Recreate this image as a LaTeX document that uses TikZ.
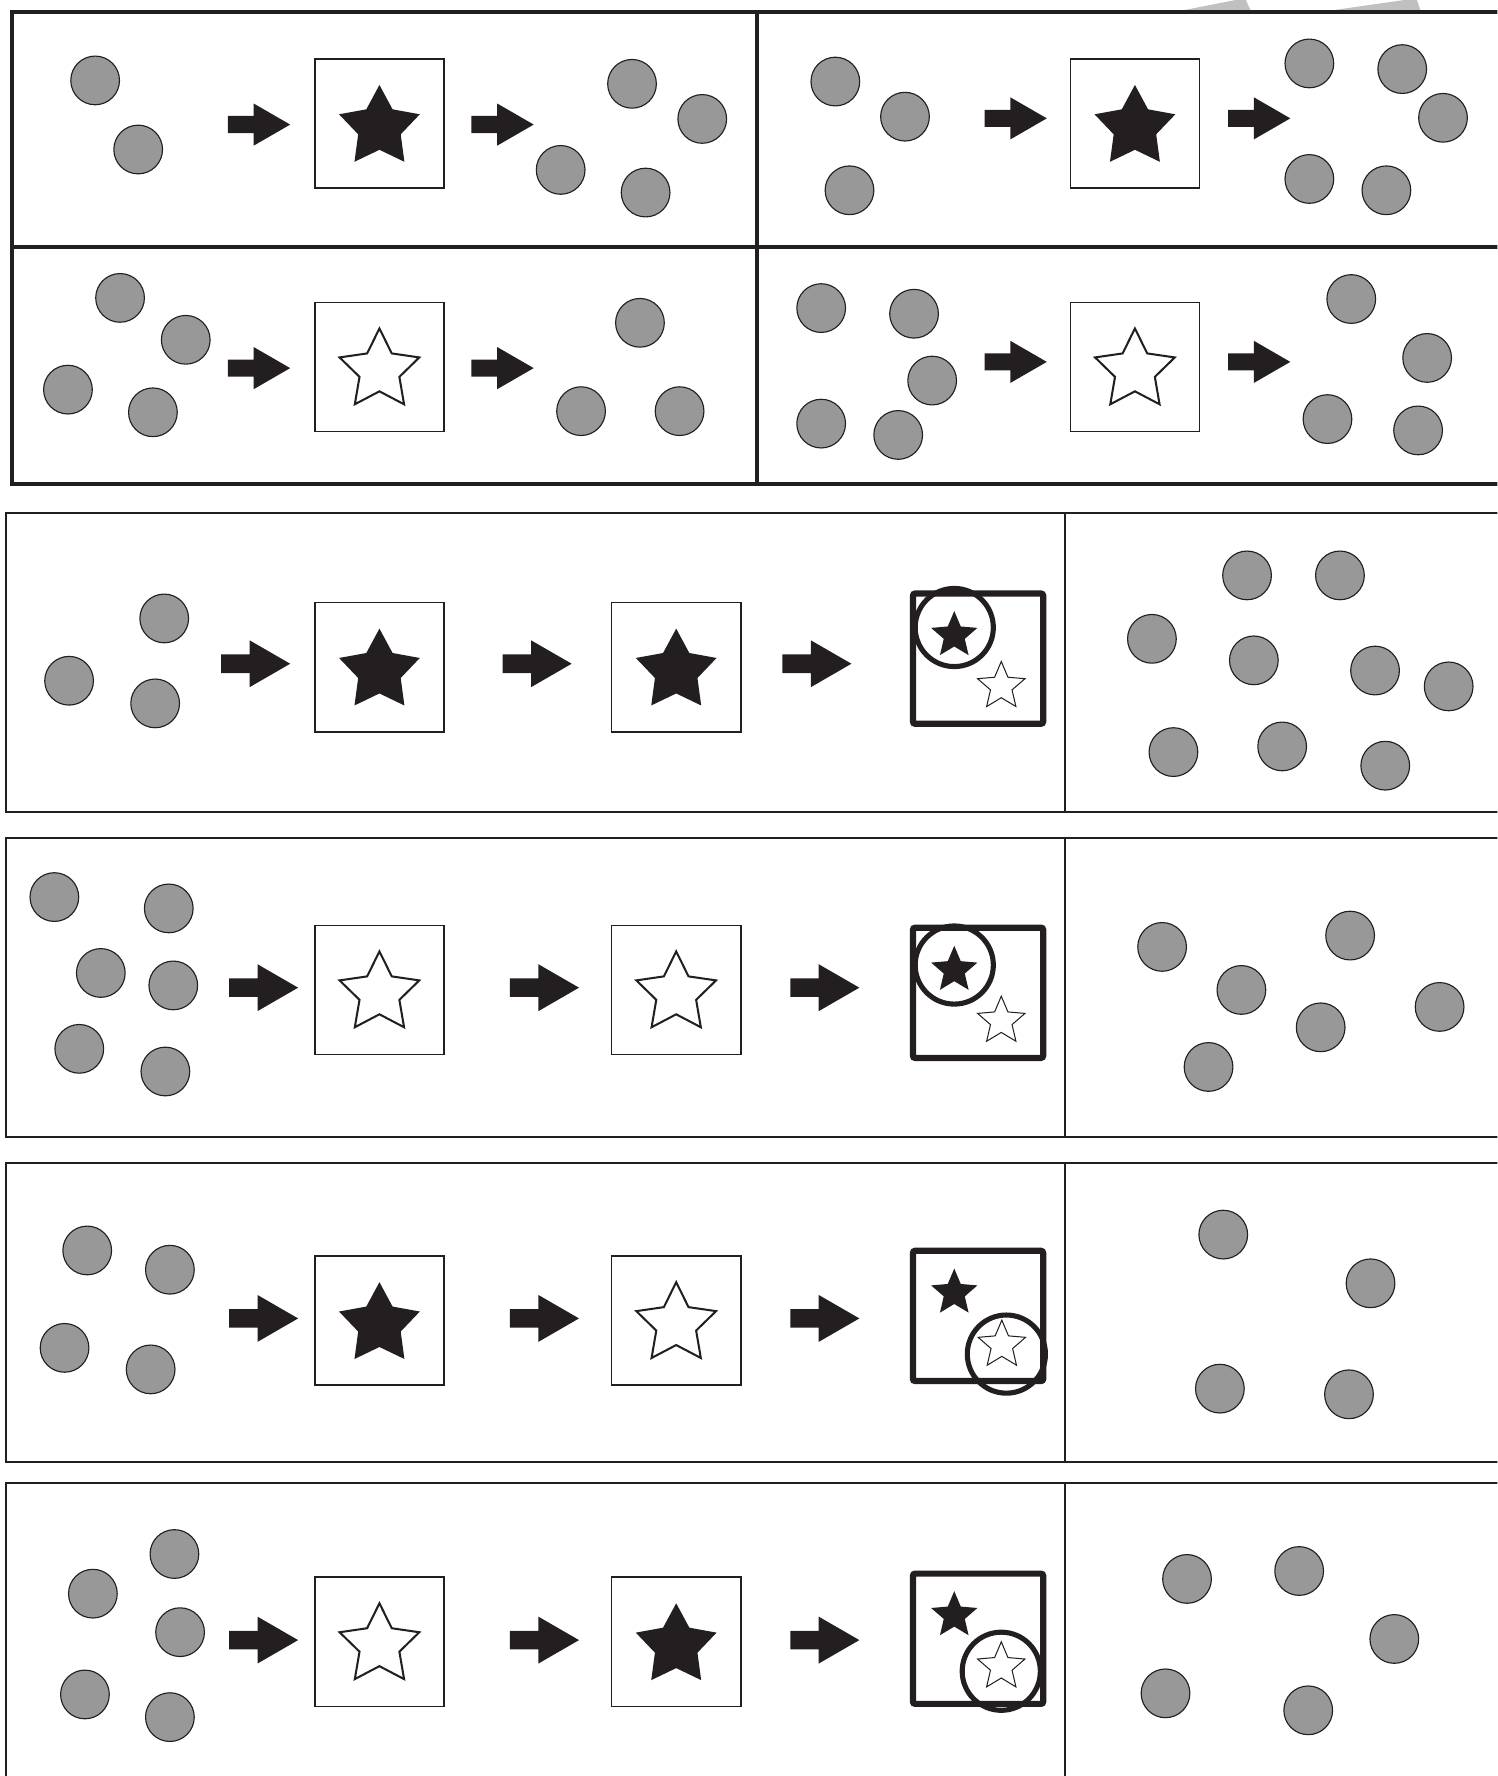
\documentclass[tikz,border=0pt]{standalone}
\usepackage{tikz}
\usetikzlibrary{shapes.geometric, shapes.arrows, positioning}
\definecolor{inkblack}{HTML}{231F20}
\definecolor{ballgray}{HTML}{989898}
\definecolor{ghostgray}{HTML}{C0C0C0}
\tikzset{
  gridframe/.style={draw=inkblack, line width=3.5pt},
  rowframe/.style={draw=inkblack, line width=1.8pt},
  ball/.style={circle, draw=inkblack, fill=ballgray, line width=1pt, minimum size=43pt, inner sep=0pt},
  cardbox/.style={rectangle, draw=inkblack, line width=1.5pt, minimum size=114pt, inner sep=0pt},
  pickbox/.style={rectangle, draw=inkblack, line width=5.5pt, rounded corners=2pt, minimum size=115pt, inner sep=0pt},
  fullstar/.style={star, star points=5, star point ratio=1.9, fill=inkblack, minimum size=75pt, inner sep=0pt},
  openstar/.style={star, star points=5, star point ratio=2.0, draw=inkblack, fill=white, line width=1.8pt, minimum size=74pt, inner sep=0pt},
  minifull/.style={star, star points=5, star point ratio=2.2, fill=inkblack, minimum size=43pt, inner sep=0pt},
  miniopen/.style={star, star points=5, star point ratio=2.2, draw=inkblack, fill=white, line width=0.9pt, minimum size=44pt, inner sep=0pt},
  ring/.style={circle, draw=inkblack, line width=4.5pt, minimum size=69pt, inner sep=0pt},
  pointer/.style={single arrow, anchor=tail, fill=inkblack, inner sep=0pt, inner ysep=8pt, minimum height=61pt,
    single arrow head extend=12.5pt, single arrow tip angle=60, single arrow head indent=0pt},
  pointersm/.style={pointer, inner ysep=7.4pt, minimum height=55pt, single arrow head extend=11pt}
}

\begin{document}
\begin{tikzpicture}[x=1pt, y=-1pt]
\useasboundingbox (0,0) rectangle (1322,1568);
\clip (0,0) rectangle (1322,1568);
% stray shapes cut by the top edge
\fill[ghostgray] (1045,9) -- (1091,0) -- (1100,0) -- (1104,9) -- cycle;
\fill[ghostgray] (1177,9) -- (1240,0) -- (1251,0) -- (1254,9) -- cycle;

% top grid
\draw[gridframe] (10.3,10.3) rectangle (1340,427);
\draw[gridframe] (10.3,218) -- (1340,218);
\draw[gridframe] (668,10.3) -- (668,427);

% panel A
\foreach \x/\y [count=\i] in {84/71, 122/132}
  \node[ball] (a-in\i) at (\x,\y) {};
\node[pointersm] (a-go1) at (201,110) {};
\node[cardbox] (a-card) at (335,109) {};
\node[fullstar] (a-star) at (335,112.5) {};
\node[pointersm] (a-go2) at (416,110) {};
\foreach \x/\y [count=\i] in {558/74, 620/105, 495/150, 570/170}
  \node[ball] (a-out\i) at (\x,\y) {};

% panel B
\foreach \x/\y [count=\i] in {737.5/72, 799/103, 750/168}
  \node[ball] (b-in\i) at (\x,\y) {};
\node[pointersm] (b-go1) at (869,104.5) {};
\node[cardbox] (b-card) at (1002,109) {};
\node[fullstar] (b-star) at (1002,112.5) {};
\node[pointersm] (b-go2) at (1084,104.5) {};
\foreach \x/\y [count=\i] in {1156/56, 1238/61, 1274/104, 1156/158, 1224/168}
  \node[ball] (b-out\i) at (\x,\y) {};

% panel C
\foreach \x/\y [count=\i] in {106/263, 164/300, 60/344, 135/364}
  \node[ball] (c-in\i) at (\x,\y) {};
\node[pointersm] (c-go1) at (201,325) {};
\node[cardbox] (c-card) at (335,324) {};
\node[openstar] (c-star) at (335,327) {};
\node[pointersm] (c-go2) at (416,325) {};
\foreach \x/\y [count=\i] in {565/285, 513/363, 600/363}
  \node[ball] (c-out\i) at (\x,\y) {};

% panel D
\foreach \x/\y [count=\i] in {725/272, 807/277, 823/336, 725/374, 793/384}
  \node[ball] (d-in\i) at (\x,\y) {};
\node[pointersm] (d-go1) at (869,319.5) {};
\node[cardbox] (d-card) at (1002,324) {};
\node[openstar] (d-star) at (1002,327) {};
\node[pointersm] (d-go2) at (1084,319.5) {};
\foreach \x/\y [count=\i] in {1193/264, 1260/316, 1172/370, 1252/380}
  \node[ball] (d-out\i) at (\x,\y) {};

% row 1
\draw[rowframe] (5,453) rectangle (1340,717);
\draw[rowframe] (940,453) -- (940,717);
\foreach \x/\y [count=\i] in {145/546, 61/601, 137/621}
  \node[ball] (r1-in\i) at (\x,\y) {};
\node[pointer] (r1-go1) at (195,586) {};
\node[cardbox] (r1-card1) at (335,589) {};
\node[fullstar] (r1-star1) at (335,592.5) {};
\node[pointer] (r1-go2) at (443.5,586) {};
\node[cardbox] (r1-card2) at (597,589) {};
\node[fullstar] (r1-star2) at (597,592.5) {};
\node[pointer] (r1-go3) at (690.5,586) {};
\node[pickbox] (r1-pick) at (863.5,581.5) {};
\node[minifull] (r1-full) at (842.5,561) {};
\node[miniopen] (r1-open) at (884,606) {};
\node[ring] (r1-ring) at (842.5,554) {};
\foreach \x/\y [count=\i] in {1101/508, 1183/508, 1017/564, 1107/583, 1214/592, 1279/606, 1036/664, 1132/659, 1223/676}
  \node[ball] (r1-out\i) at (\x,\y) {};

% row 2
\draw[rowframe] (5,740) rectangle (1340,1004);
\draw[rowframe] (940,740) -- (940,1004);
\foreach \x/\y [count=\i] in {48/792, 149/802, 89/859, 153/870, 70/926, 146/946}
  \node[ball] (r2-in\i) at (\x,\y) {};
\node[pointer] (r2-go1) at (202,872) {};
\node[cardbox] (r2-card1) at (335,874) {};
\node[openstar] (r2-star1) at (335,877) {};
\node[pointer] (r2-go2) at (450,872) {};
\node[cardbox] (r2-card2) at (597,874) {};
\node[openstar] (r2-star2) at (597,877) {};
\node[pointer] (r2-go3) at (697.5,872) {};
\node[pickbox] (r2-pick) at (863.5,876.5) {};
\node[minifull] (r2-full) at (842.5,856.5) {};
\node[miniopen] (r2-open) at (884,901.5) {};
\node[ring] (r2-ring) at (842.5,852) {};
\foreach \x/\y [count=\i] in {1026/836, 1192/826, 1096/874, 1166/907, 1271/889, 1067/942}
  \node[ball] (r2-out\i) at (\x,\y) {};

% row 3
\draw[rowframe] (5,1027) rectangle (1340,1291);
\draw[rowframe] (940,1027) -- (940,1291);
\foreach \x/\y [count=\i] in {77/1104, 150/1121, 57/1190, 133/1209}
  \node[ball] (r3-in\i) at (\x,\y) {};
\node[pointer] (r3-go1) at (202,1164) {};
\node[cardbox] (r3-card1) at (335,1166) {};
\node[fullstar] (r3-star1) at (335,1169.5) {};
\node[pointer] (r3-go2) at (450,1164) {};
\node[cardbox] (r3-card2) at (597,1166) {};
\node[openstar] (r3-star2) at (597,1169) {};
\node[pointer] (r3-go3) at (697.5,1164) {};
\node[pickbox] (r3-pick) at (863.5,1161.8) {};
\node[minifull] (r3-full) at (842.5,1141.5) {};
\node[miniopen] (r3-open) at (884.5,1187.5) {};
\node[ring] (r3-ring) at (888.5,1195.5) {};
\foreach \x/\y [count=\i] in {1080/1090, 1210/1133, 1077/1226, 1191/1231}
  \node[ball] (r3-out\i) at (\x,\y) {};

% row 4
\draw[rowframe] (5,1309) rectangle (1340,1600);
\draw[rowframe] (940,1309) -- (940,1600);
\foreach \x/\y [count=\i] in {154/1372, 82/1407, 159/1441, 75/1496, 150/1516}
  \node[ball] (r4-in\i) at (\x,\y) {};
\node[pointer] (r4-go1) at (202,1448) {};
\node[cardbox] (r4-card1) at (335,1449.5) {};
\node[openstar] (r4-star1) at (335,1452.5) {};
\node[pointer] (r4-go2) at (450,1448) {};
\node[cardbox] (r4-card2) at (597,1449.5) {};
\node[fullstar] (r4-star2) at (597,1453) {};
\node[pointer] (r4-go3) at (697.5,1448) {};
\node[pickbox] (r4-pick) at (863.5,1446.8) {};
\node[minifull] (r4-full) at (842.5,1426.3) {};
\node[miniopen] (r4-open) at (884,1471.5) {};
\node[ring] (r4-ring) at (884,1475.5) {};
\foreach \x/\y [count=\i] in {1048/1394, 1147/1387, 1231/1447, 1029/1495, 1155/1510}
  \node[ball] (r4-out\i) at (\x,\y) {};
\end{tikzpicture}
\end{document}
